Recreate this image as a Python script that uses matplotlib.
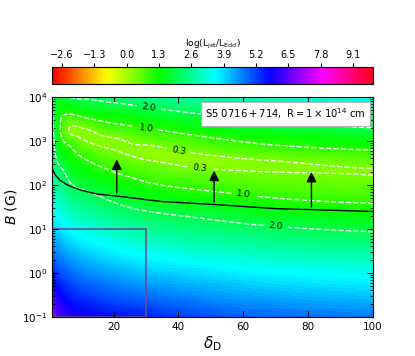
import numpy as np
import matplotlib
matplotlib.use('Agg')
import matplotlib.pyplot as plt
import matplotlib.tri as mtri
from matplotlib.patches import Rectangle

# grid: Doppler factor (columns) and log10 B [G] (rows)
delta_grid = [1, 2, 4, 7, 12, 20, 30, 45, 65, 100]
logB_grid = [-1.0, -0.5, 0.0, 0.5, 1.0, 1.5, 2.0, 2.25, 2.5, 2.75, 3.0, 3.25, 3.5, 3.75, 4.0]

# log(L_jet/L_Edd), one row per logB value
ljet = [
    [7.3, 6.7, 6.3, 6.05, 5.85, 5.65, 5.45, 5.15, 4.9, 4.7],
    [6.5, 6.0, 5.7, 5.4, 5.2, 4.95, 4.75, 4.5, 4.25, 4.05],
    [5.7, 5.3, 5.05, 4.8, 4.55, 4.3, 4.05, 3.85, 3.6, 3.4],
    [4.95, 4.6, 4.4, 4.15, 3.9, 3.6, 3.35, 3.12, 2.88, 2.66],
    [4.2, 3.9, 3.75, 3.45, 3.2, 2.9, 2.6, 2.38, 2.14, 1.9],
    [3.6, 3.25, 3.1, 2.75, 2.5, 2.16, 1.86, 1.64, 1.35, 1.11],
    [3.05, 2.65, 2.5, 2.03, 1.79, 1.44, 1.1, 0.87, 0.67, 0.54],
    [2.8, 2.4, 2.2, 1.72, 1.43, 1.07, 0.76, 0.55, 0.38, 0.28],
    [2.6, 2.2, 1.8, 1.42, 1.07, 0.72, 0.43, 0.18, 0.22, 0.45],
    [2.4, 1.98, 1.4, 1.12, 0.69, 0.37, 0.12, 0.35, 0.65, 0.91],
    [2.25, 1.85, 1.1, 0.7, 0.28, 0.22, 0.5, 0.78, 1.1, 1.4],
    [2.15, 1.75, 0.85, 0.22, 0.28, 0.68, 0.93, 1.24, 1.57, 1.9],
    [2.1, 1.7, 0.95, 0.67, 0.95, 1.17, 1.42, 1.74, 2.06, 2.4],
    [2.05, 1.75, 1.3, 1.42, 1.57, 1.74, 1.96, 2.25, 2.56, 2.9],
    [2.05, 1.9, 1.72, 2.04, 2.12, 2.27, 2.48, 2.78, 3.06, 3.4],
]

contour_levels = [0.3, 1.0, 2.0]
cbar_ticks = [-2.6, -1.3, 0.0, 1.3, 2.6, 3.9, 5.2, 6.5, 7.8, 9.1]

# lower limit on B (solid line) and the arrows
limit_delta = [1, 2, 3.5, 6, 10, 15, 21, 35, 51, 70, 100]
limit_B = [240, 170, 128, 98, 76, 62, 56, 42, 36, 29, 25]
arrow_delta = [21, 51, 81]
arrow_B0 = [56, 36, 27]
arrow_B1 = [440, 245, 230]

# box of typical parameters
box_delta = [1, 30]
box_B = [0.1, 10]

# triangulate in (log delta, log B), which is close to a uniform grid
D, LB = np.meshgrid(np.log10(delta_grid), logB_grid)
z = np.array(ljet).ravel()
tri = mtri.Triangulation(D.ravel(), LB.ravel())
tri_f, z_f = mtri.UniformTriRefiner(tri).refine_field(z, subdiv=4)
tri_plot = mtri.Triangulation(10 ** tri_f.x, 10 ** tri_f.y, tri_f.triangles)

fig = plt.figure(figsize=(4.15, 3.56), dpi=100)
ax = fig.add_axes([0.125, 0.1096, 0.774, 0.618])
ax.set_yscale('log')
ax.set_xlim(1, 100)
ax.set_ylim(0.1, 1e4)

cf = ax.tricontourf(tri_plot, z_f, levels=np.linspace(-3.0, 9.9, 130), cmap='hsv')
cs = ax.tricontour(tri_plot, z_f, levels=contour_levels, colors='white',
                   linestyles='--', linewidths=1)
ax.clabel(cs, fmt='%.1f', fontsize=6.5, colors='k', inline=True,
          manual=[(31, 10**3.8), (30, 10**3.3), (40, 10**2.77),
                  (46.5, 10**2.41), (60, 10**1.77), (70, 10**1.09)])

ax.plot(limit_delta, limit_B, 'k-', lw=1)
for d, b0, b1 in zip(arrow_delta, arrow_B0, arrow_B1):
    ax.annotate('', xy=(d, b1), xytext=(d, b0),
                arrowprops=dict(arrowstyle='-|>', color='k', lw=1, mutation_scale=15))

ax.add_patch(Rectangle((box_delta[0], box_B[0]), box_delta[1] - box_delta[0],
                       box_B[1] - box_B[0], fill=False, ec='#6a4a9a', lw=1.2))

ax.text(0.727, 0.923, r'$\mathrm{S5\ 0716+714,\ R=1\times10^{14}\ cm}$',
        transform=ax.transAxes, ha='center', va='center', fontsize=7.2,
        bbox=dict(boxstyle='square,pad=0.45', fc='white', ec='0.7', lw=0.8))

ax.set_xticks([20, 40, 60, 80, 100])
ax.tick_params(which='both', direction='in', top=True, right=True, labelsize=7.5)
ax.tick_params(which='major', length=4)
ax.tick_params(which='minor', length=2)
ax.set_xlabel(r'$\delta_{\rm D}$', fontsize=11, labelpad=2)
ax.set_ylabel(r'$B$ (G)', fontsize=10, labelpad=2)

cax = fig.add_axes([0.125, 0.763, 0.774, 0.048])
cb = fig.colorbar(cf, cax=cax, orientation='horizontal', ticks=cbar_ticks)
cax.xaxis.set_ticks_position('top')
cax.xaxis.set_label_position('top')
cax.tick_params(labelsize=7, length=3, pad=2)
cb.set_label(r'$\rm log(L_{jet}/L_{Edd})$', fontsize=6.5, labelpad=3)

fig.savefig('out.png', dpi=100)
